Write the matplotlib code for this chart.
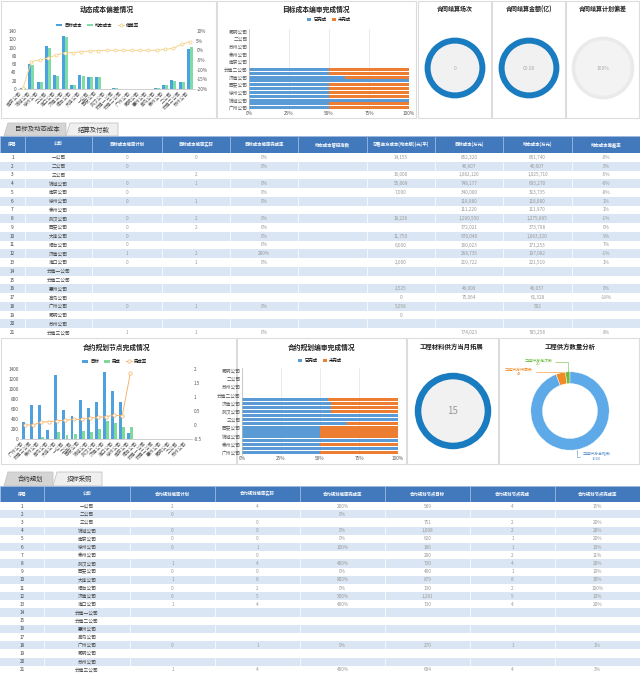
import numpy as np
import matplotlib.pyplot as plt
from matplotlib.patches import Rectangle, Polygon, Circle

plt.rcParams['font.family'] = ['Noto Sans CJK SC', 'DejaVu Sans']

W, H = 640, 674

def px(x, y, w, h):
    # pixel box (left, top, width, height) -> figure fraction
    return [x / W, 1 - (y + h) / H, w / W, h / H]

# ---------------- data ----------------
# 动态成本偏差情况
dev_cats = ['南京公司', '锦城公司', '徐州公司', '三公司', '海口公司', '济南公司', '烟台公司',
            '大连公司', '一公司', '西安公司', '武汉公司', '云南一公司', '云南二公司', '广州公司',
            '昆明公司', '惠州公司', '高岛公司', '泰州公司', '二公司', '云南三公司', '苏州公司']
dev_target = [2, 60, 17, 105, 33, 128, 10, 33, 29, 30, 0, 2, 0, 0, 0, 0, 3, 10, 21, 17, 97]
dev_dynamic = [2, 57, 17, 100, 32, 126, 10, 32, 28, 29, 0, 2, 0, 0, 0, 0, 3, 10, 20, 16, 102]
dev_rate = [-19.5, -5.8, -5.0, -4.0, -2.4, -1.2, -1.2, -0.7, -0.4, -0.2, 0, 0, 0, 0, 0, 0, 0,
            0.5, 1.0, 3.2, 4.4]

# 目标成本编审完成情况 (bottom -> top)
tc_cats = ['广州公司', '一公司', '锦城公司', '海口公司', '徐州公司', '武汉公司', '西安公司',
           '大连公司', '济南公司', '烟台公司', '云南二公司', '云南三公司', '南京公司', '三公司',
           '泰州公司', '惠州公司', '苏州公司', '高岛公司', '二公司', '云南一公司', '昆明公司']
tc_done = [50, 50, 100, 50, 50, 50, 50, 100, 60, 50, 50, 0, 0, 0, 0, 0, 0, 0, 0, 0, 0]
tc_has = [1, 1, 1, 1, 1, 1, 1, 1, 1, 1, 1, 0, 0, 0, 0, 0, 0, 0, 0, 0, 0]

# gauges
gauge_titles = ['合同结算场次', '合同结算金额(亿)', '合同结算计划偏差']
gauge_texts = ['0', '00.00', '100%']

# 合约规划节点完成情况
node_cats = ['广州公司', '云南三公司', '泰州公司', '高岛公司', '大连公司', '一公司', '三公司',
             '西安公司', '锦城公司', '武汉公司', '济南公司', '海口公司', '徐州公司', '南京公司',
             '烟台公司', '云南一公司', '云南二公司', '惠州公司', '昆明公司', '二公司', '苏州公司']
node_target = [350, 680, 680, 180, 1280, 580, 470, 790, 620, 740, 1340, 970, 740, 130,
               0, 0, 0, 0, 0, 0, 0]
node_done = [0, 0, 50, 0, 150, 80, 100, 160, 140, 200, 370, 330, 240, 240,
             0, 0, 0, 0, 0, 0, 0]
node_rate = [0.0, 0.0, 0.1, 0.12, 0.15, 0.17, 0.2, 0.2, 0.25, 0.27, 0.3, 0.35, 0.33, 1.85]

# 合约规划编审完成情况 (bottom -> top)
cp_cats = ['广州公司', '一公司', '泰州公司', '海口公司', '锦城公司', '徐州公司', '西安公司',
           '大连公司', '三公司', '南京公司', '武汉公司', '烟台公司', '济南公司', '云南三公司',
           '云南二公司', '惠州公司', '苏州公司', '高岛公司', '二公司', '云南一公司', '昆明公司']
cp_done = [50, 100, 50, 100, 50, 50, 50, 67, 100, 100, 57, 57, 57, 55, 0, 0, 0, 0, 0, 0, 0]
cp_has = [1] * 14 + [0] * 7

material_count = '15'

supplier_labels = ['工程供方淘汰数', '工程供方待审数', '工程供方合格数']
supplier_values = [20, 42, 1000]

# tables
companies = ['一公司', '二公司', '三公司', '锦城公司', '南京公司', '徐州公司', '泰州公司',
             '武汉公司', '西安公司', '大连公司', '烟台公司', '济南公司', '海口公司', '云南一公司',
             '云南二公司', '惠州公司', '高岛公司', '广州公司', '昆明公司', '苏州公司', '云南三公司']

t1_headers = ['序号', '公司', '目标成本编审计划', '目标成本编审实际', '目标成本编审完成率',
              '动态成本管控指数', '可售单方成本(动态版)(元/平)', '目标成本(万元)',
              '动态成本(万元)', '动态成本偏差率']
t1_plan = ['0', '0', '', '0', '0', '0', '', '0', '0', '0', '0', '1', '0', '', '', '', '', '0', '', '', '1']
t1_act = ['0', '', '2', '1', '', '1', '', '2', '2', '', '', '2', '1', '', '', '', '', '1', '', '', '1']
t1_rate = ['0%', '0%', '', '0%', '0%', '0%', '', '0%', '0%', '0%', '0%', '200%', '0%', '', '', '',
           '', '0%', '', '', '0%']
t1_unit = ['14,155', '', '16,000', '55,669', '7,000', '', '', '18,226', '', '11,750', '6,000', '',
           '2,000', '', '', '2,525', '0', '5,058', '0', '', '']
t1_target = ['852,320', '46,607', '1,082,120', '748,177', '340,000', '118,880', '111,220',
             '1,290,550', '372,021', '970,046', '160,023', '268,735', '219,722', '', '', '46,000',
             '75,064', '', '', '', '774,023']
t1_dyn = ['851,740', '46,607', '1,025,710', '695,270', '313,735', '118,880', '111,970',
          '1,275,895', '373,798', '1,063,320', '171,253', '197,082', '221,519', '', '', '46,037',
          '61,328', '502', '', '', '785,258']
t1_dev = ['-0%', '0%', '-5%', '-6%', '-8%', '1%', '1%', '-1%', '0%', '9%', '7%', '-1%', '1%', '',
          '', '0%', '-18%', '', '', '', '8%']

t2_headers = ['序号', '公司', '合约规划编审计划', '合约规划编审实际', '合约规划编审完成率',
              '合约规划节点目标', '合约规划节点完成', '合约规划节点完成率']
t2_plan = ['2', '0', '', '0', '0', '0', '', '1', '0', '1', '0', '0', '1', '', '', '', '', '0',
           '', '', '1']
t2_act = ['4', '', '0', '0', '0', '1', '0', '4', '0', '8', '2', '5', '4', '', '', '', '', '1',
          '', '', '4']
t2_rate = ['200%', '0%', '', '0%', '0%', '100%', '', '400%', '0%', '800%', '0%', '500%', '400%',
           '', '', '', '', '0%', '', '', '400%']
t2_node = ['589', '', '751', '1,008', '620', '186', '200', '730', '400', '879', '130', '1,281',
           '730', '', '', '', '', '270', '', '', '604']
t2_ndone = ['4', '', '2', '2', '1', '1', '2', '4', '1', '8', '2', '5', '4', '', '', '', '', '1',
            '', '', '4']
t2_nrate = ['15%', '', '20%', '20%', '20%', '10%', '11%', '20%', '10%', '30%', '100%', '10%',
            '20%', '', '', '', '', '1%', '', '', '3%']

BLUE = '#5b9bd5'
ORANGE = '#ed7d31'
RING = '#1a7cc0'
HEAD = '#4279bd'
STRIPE = '#dbe6f4'
GRID = '#e3e3e3'

fig = plt.figure(figsize=(6.4, 6.74), dpi=100)

# ---------------- background panels / tabs ----------------
bg = fig.add_axes([0, 0, 1, 1], zorder=-5)
bg.set_xlim(0, W)
bg.set_ylim(H, 0)
bg.axis('off')
for (x0, y0, w, h) in [(1, 1, 215, 117), (217, 1, 199, 117), (418, 1, 73, 117),
                       (492, 1, 73, 117), (566, 1, 73, 117),
                       (1, 338, 235, 126), (237, 338, 169, 126), (407, 338, 91, 126),
                       (499, 338, 140, 126)]:
    bg.add_patch(Rectangle((x0, y0), w, h, fc='white', ec='#dcdcdc', lw=0.8))

def tabs(y0, y1, items):
    for (x0, x1, label, active) in items:
        fc = '#d4d4d4' if active else '#efefef'
        bg.add_patch(Polygon([(x0, y1), (x0 + 4, y0), (x1, y0), (x1, y1)], closed=True,
                             fc=fc, ec='#c4c4c4', lw=0.6))
        bg.text((x0 + x1) / 2 + 2, (y0 + y1) / 2, label, fontsize=4.6, ha='center',
                va='center', color='#333333')

tabs(123, 136, [(4, 66, '目标及动态成本', True), (66, 118, '结算及付款', False)])
tabs(472, 486, [(4, 53, '合约规划', True), (53, 102, '招标采购', False)])

def title(x, y, s, size=4.9):
    fig.text(x / W, 1 - y / H, s, fontsize=size, ha='center', va='center',
             fontweight='bold', color='#222222')

def style(ax, size=3.4):
    for s in ax.spines.values():
        s.set_visible(False)
    ax.tick_params(labelsize=size, length=0, colors='#555555', pad=1)

# ---------------- chart 1: 动态成本偏差情况 ----------------
title(107, 9, '动态成本偏差情况')
ax = fig.add_axes(px(18, 31, 177, 58))
x = np.arange(len(dev_cats))
ax.bar(x - 0.19, dev_target, 0.36, color='#4aa3df', label='目标成本')
ax.bar(x + 0.19, dev_dynamic, 0.36, color='#80dca6', label='动态成本')
ax.set_ylim(0, 140)
ax.set_yticks(range(0, 141, 20))
ax.set_xlim(-0.6, len(dev_cats) - 0.4)
ax.set_xticks(x)
ax.set_xticklabels(dev_cats, rotation=45, ha='right', fontsize=3.1)
style(ax)
ax.spines['bottom'].set_visible(True)
ax.spines['bottom'].set_color('#bbbbbb')
ax.spines['bottom'].set_linewidth(0.5)
ax2 = ax.twinx()
ax2.plot(x, dev_rate, color='#f5d48b', lw=0.7, marker='o', ms=2.2, mfc='white',
         mec='#f2cb75', mew=0.5, label='偏差率')
ax2.set_ylim(-20, 10)
ax2.set_yticks(range(-20, 11, 5))
ax2.set_yticklabels(['%d%%' % v for v in range(-20, 11, 5)])
style(ax2)
h1, l1 = ax.get_legend_handles_labels()
h2, l2 = ax2.get_legend_handles_labels()
ax.legend(h1 + h2, l1 + l2, ncol=3, loc='lower center', bbox_to_anchor=(0.45, 1.02),
          frameon=False, fontsize=3.2, handlelength=1.4, handleheight=0.6,
          columnspacing=1.2, borderpad=0, handletextpad=0.4)

# ---------------- chart 2: 目标成本编审完成情况 ----------------
title(316, 9, '目标成本编审完成情况')
ax = fig.add_axes(px(249, 29, 160, 81))
y = np.arange(len(tc_cats))
done = np.array(tc_done) * np.array(tc_has)
todo = (100 - np.array(tc_done)) * np.array(tc_has)
ax.barh(y, done, 0.8, color=BLUE, label='已完成')
ax.barh(y, todo, 0.8, left=done, color=ORANGE, label='未完成')
ax.set_xlim(0, 100)
ax.set_ylim(-0.6, len(tc_cats) - 0.4)
ax.set_xticks([0, 25, 50, 75, 100])
ax.set_xticklabels(['0%', '25%', '50%', '75%', '100%'])
ax.set_yticks(y[::2])
ax.set_yticklabels(tc_cats[::2], fontsize=3.2)
ax.xaxis.grid(True, color=GRID, lw=0.5)
ax.set_axisbelow(True)
style(ax)
ax.spines['left'].set_visible(True)
ax.spines['left'].set_color('#bbbbbb')
ax.spines['left'].set_linewidth(0.5)
ax.legend(ncol=2, loc='lower center', bbox_to_anchor=(0.5, 1.06), frameon=False,
          fontsize=3.2, handlelength=1.0, handleheight=0.7, columnspacing=1.2,
          borderpad=0, handletextpad=0.4)

# ---------------- gauges ----------------
def gauge(cx, cy, r, ring, inner, text, tsize, tcolor, width=0.22):
    g = fig.add_axes(px(cx - r, cy - r, 2 * r, 2 * r))
    g.pie([1], colors=[ring], radius=1, startangle=90,
          wedgeprops=dict(width=width, edgecolor='none'))
    g.add_patch(Circle((0, 0), 1 - width, color=inner))
    g.text(0, 0, text, ha='center', va='center', fontsize=tsize, color=tcolor)
    g.set_xlim(-1.02, 1.02)
    g.set_ylim(-1.02, 1.02)
    g.set_aspect('equal')
    g.axis('off')

centers = [455, 529, 603]
for i in range(3):
    title(centers[i], 9, gauge_titles[i], size=4.3)
gauge(455, 68, 31, RING, '#f1f1f1', gauge_texts[0], 3.5, '#aaaaaa')
gauge(529, 68, 31, RING, '#f1f1f1', gauge_texts[1], 3.5, '#aaaaaa')
gauge(603, 68, 32, '#eaeaea', '#f3f3f3', gauge_texts[2], 3.5, '#aaaaaa', width=0.14)

# ---------------- tables ----------------
def table(top, height, head_h, widths, headers, cols):
    ta = fig.add_axes(px(0, top, W, height))
    edges = np.concatenate([[0], np.cumsum(widths)])
    n = len(cols[0])
    row_h = (height - head_h) / n
    hh = head_h / row_h
    ta.set_xlim(0, edges[-1])
    ta.set_ylim(n, -hh)
    ta.axis('off')
    for j, hd in enumerate(headers):
        ta.add_patch(Rectangle((edges[j], -hh), widths[j], hh, fc=HEAD, ec='#9db9de', lw=0.5))
        ta.text(edges[j] + widths[j] / 2, -hh / 2, hd, color='white', fontsize=3.2,
                ha='center', va='center', fontweight='bold')
    for i in range(n):
        fc = STRIPE if i % 2 else 'white'
        ta.add_patch(Rectangle((0, i), edges[-1], 1, fc=fc, ec='none'))
        for j in range(len(headers)):
            if i % 2 and j > 0:
                ta.plot([edges[j], edges[j]], [i, i + 1], color='white', lw=0.5)
            v = str(i + 1) if j == 0 else cols[j - 1][i]
            ta.text(edges[j] + widths[j] / 2, i + 0.5, v, fontsize=3.4, ha='center',
                    va='center', color='#444444' if j < 2 else '#999999')
    ta.plot([0, edges[-1]], [n, n], color='#dddddd', lw=0.6)

table(136, 201, 17, [25, 67, 70, 68, 68, 69, 68, 68, 69, 68], t1_headers,
      [companies, t1_plan, t1_act, t1_rate, [''] * 21, t1_unit, t1_target, t1_dyn, t1_dev])

# ---------------- chart 3: 合约规划节点完成情况 ----------------
title(117, 347, '合约规划节点完成情况')
ax = fig.add_axes(px(20, 369, 172, 70))
x = np.arange(len(node_cats))
ax.bar(x - 0.19, node_target, 0.36, color='#4fa1dd', label='目标')
ax.bar(x + 0.19, node_done, 0.36, color='#7fd89c', label='完成')
ax.set_ylim(0, 1400)
ax.set_yticks(range(0, 1401, 200))
ax.set_xlim(-0.6, len(node_cats) - 0.4)
ax.set_xticks(x)
ax.set_xticklabels(node_cats, rotation=45, ha='right', fontsize=3.1)
style(ax)
ax.spines['bottom'].set_visible(True)
ax.spines['bottom'].set_color('#bbbbbb')
ax.spines['bottom'].set_linewidth(0.5)
ax2 = ax.twinx()
ax2.plot(np.arange(len(node_rate)), node_rate, color='#f7b46b', lw=0.7, marker='o', ms=2.4,
         mfc='white', mec='#f5ad63', mew=0.5, label='完成率')
ax2.set_ylim(-0.5, 2)
ax2.set_yticks([-0.5, 0, 0.5, 1, 1.5, 2])
ax2.set_yticklabels(['-0.5', '0', '0.5', '1', '1.5', '2'])
style(ax2)
h1, l1 = ax.get_legend_handles_labels()
h2, l2 = ax2.get_legend_handles_labels()
ax.legend(h1 + h2, l1 + l2, ncol=3, loc='lower center', bbox_to_anchor=(0.55, 1.04),
          frameon=False, fontsize=3.2, handlelength=1.4, handleheight=0.6,
          columnspacing=1.2, borderpad=0, handletextpad=0.4)

# ---------------- chart 4: 合约规划编审完成情况 ----------------
title(322, 347, '合约规划编审完成情况')
ax = fig.add_axes(px(242, 368, 156, 87))
y = np.arange(len(cp_cats))
done = np.array(cp_done) * np.array(cp_has)
todo = (100 - np.array(cp_done)) * np.array(cp_has)
ax.barh(y, done, 0.8, color=BLUE, label='已完成')
ax.barh(y, todo, 0.8, left=done, color=ORANGE, label='未完成')
ax.set_xlim(0, 100)
ax.set_ylim(-0.6, len(cp_cats) - 0.4)
ax.set_xticks([0, 25, 50, 75, 100])
ax.set_xticklabels(['0%', '25%', '50%', '75%', '100%'])
ax.set_yticks(y[::2])
ax.set_yticklabels(cp_cats[::2], fontsize=3.2)
ax.xaxis.grid(True, color=GRID, lw=0.5)
ax.set_axisbelow(True)
style(ax)
ax.spines['left'].set_visible(True)
ax.spines['left'].set_color('#bbbbbb')
ax.spines['left'].set_linewidth(0.5)
ax.legend(ncol=2, loc='lower center', bbox_to_anchor=(0.5, 1.03), frameon=False,
          fontsize=3.2, handlelength=1.0, handleheight=0.7, columnspacing=1.2,
          borderpad=0, handletextpad=0.4)

# ---------------- material gauge ----------------
title(452, 347, '工程材料供方当月拓展', size=4.6)
gauge(453, 411, 39, RING, '#f1f1f1', material_count, 7, '#999999', width=0.19)

# ---------------- donut: 工程供方数量分析 ----------------
title(570, 347, '工程供方数量分析', size=4.6)
d = fig.add_axes(px(530, 371, 80, 80))
wedges, _ = d.pie(supplier_values, colors=['#6dbb3f', '#f08a24', '#5eaae8'], startangle=90,
                  counterclock=True, wedgeprops=dict(width=0.3, edgecolor='white', lw=0.3))
d.set_aspect('equal')
d.set_xlim(-1.02, 1.02)
d.set_ylim(-1.02, 1.02)
d.axis('off')
label_colors = ['#6dbb3f', '#f08a24', '#5a8fc8']
offsets = [(-21, 7), (-30, 1), (14, -5)]
for wdg, lab, val, col, off in zip(wedges, supplier_labels, supplier_values, label_colors, offsets):
    ang = np.deg2rad((wdg.theta1 + wdg.theta2) / 2)
    xy = (np.cos(ang), np.sin(ang))
    d.annotate(lab + '\n' + str(val), xy=xy, xytext=off, textcoords='offset points',
               fontsize=2.9, color=col, ha='center', va='center', annotation_clip=False,
               linespacing=1.0,
               arrowprops=dict(arrowstyle='-', color=col, lw=0.4, shrinkA=0, shrinkB=0,
                               connectionstyle='angle,angleA=0,angleB=90'))

# ---------------- table 2 ----------------
table(486, 188, 16, [44, 86, 85, 85, 85, 85, 85, 85], t2_headers,
      [companies, t2_plan, t2_act, t2_rate, t2_node, t2_ndone, t2_nrate])

fig.savefig('out.png', dpi=100)
